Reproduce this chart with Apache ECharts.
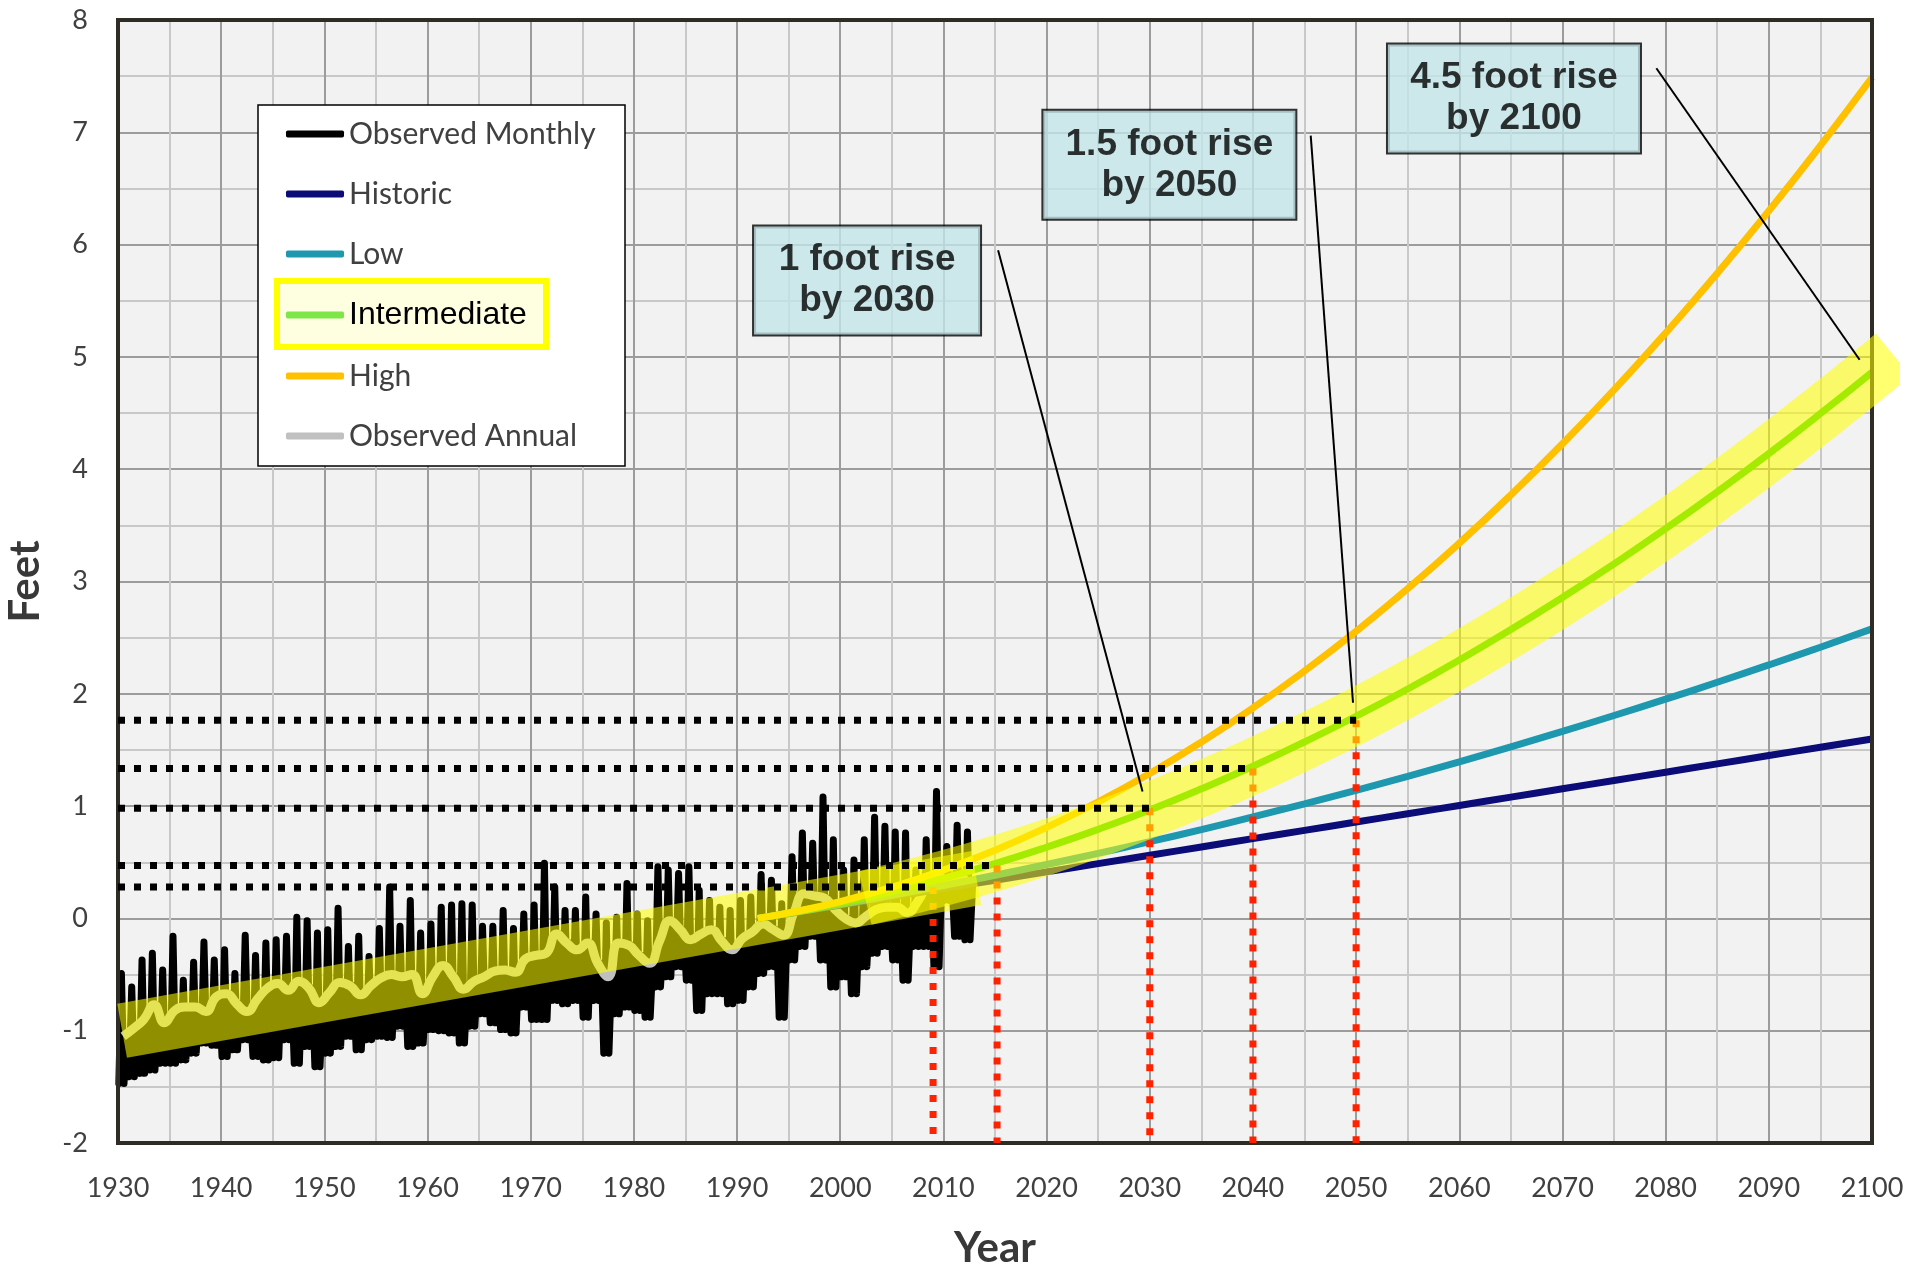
<!DOCTYPE html>
<html>
<head>
<meta charset="utf-8">
<script src="https://cdn.jsdelivr.net/npm/echarts@6/dist/echarts.min.js"></script>
<style>html,body{margin:0;padding:0;background:#fff}#c{width:1906px;height:1266px}</style>
</head>
<body>
<div id="c"></div>
<script>
// ---------- data ----------
const obsStartYear = 1930;
const monthlyHigh = [
 -0.49,-0.61,-0.37,-0.31,-0.46,-0.16,-0.55,-0.39,-0.21,-0.37,
 -0.28,-0.49,-0.15,-0.33,-0.22,-0.19,-0.16, 0.01,-0.02,-0.13,
 -0.10, 0.09,-0.25,-0.16,-0.34,-0.09, 0.28,-0.07, 0.16,-0.13,
 -0.05, 0.10, 0.12, 0.13, 0.12,-0.07,-0.07, 0.07,-0.09, 0.04,
  0.12, 0.49, 0.28, 0.07, 0.07, 0.19, 0.04,-0.04, 0.01, 0.31,
  0.04,-0.02, 0.46, 0.43, 0.40, 0.46, 0.25, 0.16, 0.10, 0.07,
  0.16, 0.19, 0.39, 0.34, 0.13, 0.55, 0.76, 0.67, 1.08, 0.70,
  0.43, 0.52, 0.70, 0.90, 0.82, 0.77, 0.76, 0.43, 0.70, 1.13,
  0.64, 0.83, 0.77];
const monthlyLow = [
 -1.47,-1.41,-1.38,-1.35,-1.29,-1.29,-1.26,-1.20,-1.11,-1.13,
 -1.23,-1.17,-1.08,-1.23,-1.26,-1.24,-1.08,-1.29,-1.14,-1.32,
 -1.20,-1.14,-1.05,-1.17,-1.08,-1.05,-1.06,-0.96,-1.14,-1.11,
 -0.99,-1.00,-1.02,-1.11,-0.96,-0.85,-0.93,-0.99,-1.02,-0.79,
 -0.90,-0.90,-0.73,-0.76,-0.73,-0.88,-0.73,-1.20,-0.85,-0.79,
 -0.82,-0.88,-0.61,-0.52,-0.43,-0.55,-0.82,-0.67,-0.67,-0.76,
 -0.73,-0.61,-0.49,-0.43,-0.88,-0.37,-0.25,-0.16,-0.37,-0.61,
 -0.52,-0.67,-0.43,-0.31,-0.25,-0.37,-0.55,-0.25,-0.25,-0.43,
  0.16,-0.16,-0.19];
const annualMean = [
 -1.05,-0.98,-0.90,-0.77,-0.93,-0.82,-0.79,-0.79,-0.83,-0.70,
 -0.67,-0.76,-0.83,-0.72,-0.62,-0.58,-0.64,-0.56,-0.62,-0.75,
 -0.66,-0.57,-0.60,-0.68,-0.60,-0.53,-0.50,-0.52,-0.50,-0.67,
 -0.52,-0.42,-0.52,-0.63,-0.56,-0.52,-0.47,-0.46,-0.48,-0.36,
 -0.33,-0.31,-0.14,-0.22,-0.28,-0.22,-0.40,-0.52,-0.22,-0.24,
 -0.33,-0.40,-0.20,-0.02,-0.10,-0.19,-0.14,-0.10,-0.20,-0.28,
 -0.18,-0.12,-0.05,-0.10,-0.15, 0.05, 0.22, 0.20, 0.18, 0.08,
  0.00,-0.04, 0.02, 0.08, 0.10, 0.10, 0.05, 0.15, 0.30, 0.37,
  0.33, 0.37, 0.30];
const trendYears = [1930.4, 2013.2];
const trendValues = [-1.0, 0.36];

const projYears = [1992,1995,2000,2005,2010,2015,2020,2025,2030,2035,2040,2045,2050,2055,2060,2065,2070,2075,2080,2085,2090,2095,2100];
const historic = [0,0.044,0.118,0.192,0.266,0.340,0.414,0.488,0.562,0.636,0.710,0.784,0.858,0.932,1.006,1.080,1.154,1.228,1.302,1.376,1.450,1.524,1.598];
const low = [0,0.045,0.123,0.206,0.293,0.384,0.480,0.579,0.683,0.791,0.904,1.020,1.141,1.265,1.394,1.528,1.665,1.807,1.952,2.103,2.257,2.415,2.578];
const intermediate = [0,0.047,0.136,0.239,0.357,0.488,0.634,0.793,0.966,1.154,1.355,1.571,1.800,2.043,2.301,2.572,2.858,3.157,3.470,3.798,4.139,4.495,4.864];
const high = [0,0.049,0.150,0.277,0.430,0.607,0.810,1.038,1.291,1.570,1.874,2.203,2.557,2.936,3.341,3.771,4.226,4.707,5.213,5.744,6.300,6.882,7.488];
const bandStartYear = 2005;

const guideYears = [2009, 2015.2, 2030, 2040, 2050];
const guideLevels = [0.28, 0.47, 0.98, 1.335, 1.765];

const noteTexts = ['1 foot rise\nby 2030', '1.5 foot rise\nby 2050', '4.5 foot rise\nby 2100'];
const noteCenters = [[2002.6, 5.68], [2031.9, 6.71], [2065.3, 7.30]];
const noteWidths = [226, 252, 252];
const leaderFrom = [[2015.3, 5.95], [2045.6, 6.97], [2079.1, 7.57]];
const leaderTo = [[2029.3, 1.13], [2049.7, 1.92], [2098.8, 4.975]];

const legendNames = ['Observed Monthly', 'Historic', 'Low', 'Intermediate', 'High', 'Observed Annual'];

// ---------- build ----------
const zipXY = (xs, ys) => xs.map((x, i) => [x, ys[i]]);
const monthly = [];
const annual = [];
monthlyHigh.forEach((h, i) => {
  const y = obsStartYear + i;
  monthly.push([y + 0.08, monthlyLow[i]], [y + 0.33, h], [y + 0.58, monthlyLow[i]], [y + 0.83, annualMean[i]]);
  annual.push([y + 0.5, annualMean[i]]);
});
const bandData = zipXY(projYears, intermediate).filter(p => p[0] >= bandStartYear);

const BAND = 'rgba(255,255,0,0.56)';
const series = [];
guideYears.forEach((yr, i) => series.push({
  type: 'line', silent: true, symbol: 'none', z: 5,
  data: [[yr, guideLevels[i]], [yr, -2]],
  lineStyle: {color: '#ff2200', width: 7, type: [7, 9], cap: 'butt'}
}));
series.push({name: 'Observed Monthly', type: 'line', symbol: 'none', z: 3, data: monthly,
  color: '#000', lineStyle: {color: '#000', width: 7, join: 'round', cap: 'round'}});
series.push({name: 'Observed Annual', type: 'line', symbol: 'none', z: 4, smooth: 0.5, data: annual,
  color: '#c0c0c0', lineStyle: {color: '#c0c0c0', width: 9}});
[['Historic', historic, '#0c0c78'], ['Low', low, '#1e98ae'], ['Intermediate', intermediate, '#30d200'], ['High', high, '#ffc000']]
  .forEach(([n, d, c]) => series.push({name: n, type: 'line', symbol: 'none', z: 4, smooth: true,
    data: zipXY(projYears, d), color: c, lineStyle: {color: c, width: 7}}));
series.push({type: 'line', silent: true, symbol: 'none', z: 6, data: zipXY(trendYears, trendValues),
  lineStyle: {color: BAND, width: 55, cap: 'butt'}});
series.push({type: 'line', silent: true, symbol: 'none', z: 6, smooth: true, clip: false, data: bandData,
  lineStyle: {color: BAND, width: 55, cap: 'square'}});
guideYears.forEach((yr, i) => series.push({
  type: 'line', silent: true, symbol: 'none', z: 7,
  data: [[1930, guideLevels[i]], [yr, guideLevels[i]]],
  lineStyle: {color: '#000', width: 7, type: [7, 9], cap: 'butt'}
}));
leaderFrom.forEach((p, i) => series.push({
  type: 'line', silent: true, symbol: 'none', z: 8, data: [p, leaderTo[i]],
  lineStyle: {color: '#000', width: 2}
}));
series.push({
  type: 'scatter', silent: true, z: 9, symbolSize: 1, itemStyle: {color: 'rgba(0,0,0,0)'},
  data: noteTexts.map((t, i) => ({value: noteCenters[i], label: {formatter: t, width: noteWidths[i]}})),
  label: {show: true, position: 'inside', fontFamily: 'Liberation Sans, Arial, sans-serif', fontWeight: 'bold',
    fontSize: 37, lineHeight: 41, color: '#000', backgroundColor: '#c3e5e8', borderColor: '#000',
    borderWidth: 2, padding: [13, 0, 13, 0], align: 'center', verticalAlign: 'middle'}
});

const LBL = '#404040';
const option = {
  animation: false,
  backgroundColor: '#fff',
  grid: {left: 118, right: 34, top: 20, bottom: 123, show: true, backgroundColor: '#f2f2f2', borderWidth: 0,
    containLabel: false, outerBoundsMode: 'none'},
  xAxis: {type: 'value', min: 1930, max: 2100, interval: 10,
    axisLine: {show: false}, axisTick: {show: false},
    axisLabel: {fontFamily: 'Lato', fontSize: 27, color: LBL, margin: 32, formatter: v => String(v)},
    splitLine: {show: true, lineStyle: {color: '#9c9c9c', width: 2}},
    minorTick: {show: false, splitNumber: 2},
    minorSplitLine: {show: true, lineStyle: {color: '#c8c8c8', width: 2}},
    name: 'Year', nameLocation: 'middle', nameGap: 84,
    nameTextStyle: {fontFamily: 'Lato', fontWeight: 'bold', fontSize: 42, color: '#383838'}},
  yAxis: {type: 'value', min: -2, max: 8, interval: 1,
    axisLine: {show: false}, axisTick: {show: false},
    axisLabel: {fontFamily: 'Lato', fontSize: 27, color: LBL, margin: 30},
    splitLine: {show: true, lineStyle: {color: '#9c9c9c', width: 2}},
    minorTick: {show: false, splitNumber: 2},
    minorSplitLine: {show: true, lineStyle: {color: '#c8c8c8', width: 2}},
    name: 'Feet', nameLocation: 'middle', nameGap: 72,
    nameTextStyle: {fontFamily: 'Lato', fontWeight: 'bold', fontSize: 42, color: '#383838'}},
  legend: {orient: 'vertical', left: 286, top: 119, itemWidth: 58, itemHeight: 7, itemGap: 30,
    icon: 'roundRect', padding: 0, z: 10, selectedMode: false,
    textStyle: {fontFamily: 'Lato', fontSize: 30, color: LBL, lineHeight: 30},
    data: legendNames.map(n => n === 'Intermediate'
      ? {name: n, itemStyle: {color: '#7fe64a'}, textStyle: {fontFamily: 'Liberation Sans, Arial, sans-serif', fontSize: 32, color: '#000', lineHeight: 30}}
      : n)},
  graphic: [
    {type: 'rect', z: 5, shape: {x: 118, y: 20, width: 1754, height: 1123},
      style: {fill: null, stroke: '#2f2b25', lineWidth: 4}},
    {type: 'rect', z: 9, shape: {x: 258, y: 105, width: 367, height: 361},
      style: {fill: '#fff', stroke: '#000', lineWidth: 1.5}},
    {type: 'rect', z: 9, shape: {x: 277, y: 281, width: 269, height: 66},
      style: {fill: '#fefee0', stroke: '#ffff00', lineWidth: 6}}
  ],
  series: series
};
const chart = echarts.init(document.getElementById('c'));
chart.setOption(option);
</script>
</body>
</html>
